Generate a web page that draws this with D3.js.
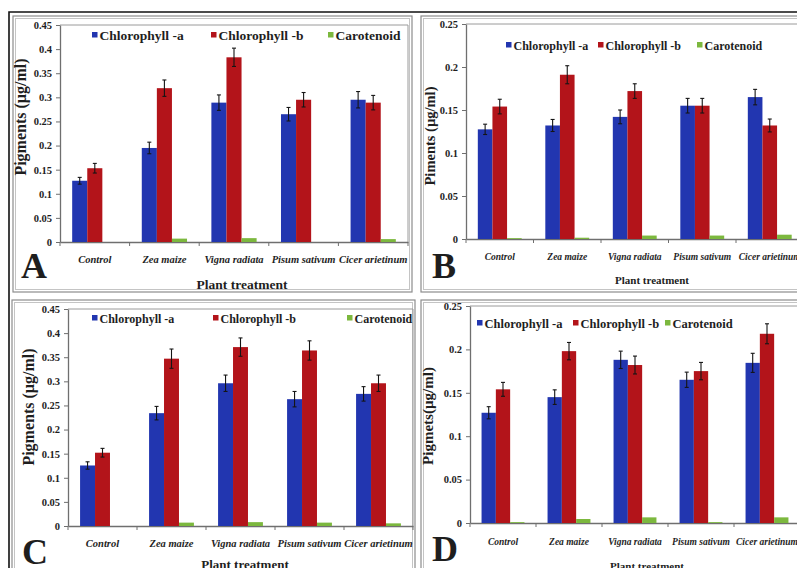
<!DOCTYPE html>
<html>
<head>
<meta charset="utf-8">
<script src="https://cdn.jsdelivr.net/npm/d3@7"></script>
<style>
  body { margin: 0; background: #fff; }
  svg text { font-family: "Liberation Serif", "Times New Roman", serif; font-weight: bold; fill: #1e1e1e; }
</style>
</head>
<body>
<svg id="fig" width="797" height="568"></svg>
<script>
// ---- data ----
const categories = ["Control", "Zea maize", "Vigna radiata", "Pisum sativum", "Cicer arietinum"];
const seriesNames = ["Chlorophyll -a", "Chlorophyll -b", "Carotenoid"];
const seriesColors = ["#2236b0", "#b3141a", "#7cb83e"];

const ticksHigh = [0, 0.05, 0.1, 0.15, 0.2, 0.25, 0.3, 0.35, 0.4, 0.45];
const ticksLow = [0, 0.05, 0.1, 0.15, 0.2, 0.25];

// Panel A
const chlA_A = [0.127, 0.195, 0.289, 0.265, 0.295];
const chlB_A = [0.153, 0.319, 0.383, 0.295, 0.289];
const car_A  = [0, 0.007, 0.008, 0, 0.006];
const errChlA_A = [0.007, 0.012, 0.016, 0.014, 0.017];
const errChlB_A = [0.010, 0.017, 0.019, 0.015, 0.015];

// Panel B
const chlA_B = [0.1275, 0.132, 0.142, 0.155, 0.165];
const chlB_B = [0.154, 0.191, 0.172, 0.155, 0.132];
const car_B  = [0.001, 0.0015, 0.004, 0.004, 0.005];
const errChlA_B = [0.006, 0.007, 0.008, 0.0085, 0.009];
const errChlB_B = [0.0085, 0.0105, 0.0085, 0.0085, 0.0075];

// Panel C
const chlA_C = [0.1255, 0.234, 0.296, 0.263, 0.274];
const chlB_C = [0.152, 0.347, 0.371, 0.364, 0.296];
const car_C  = [0, 0.007, 0.008, 0.007, 0.0055];
const errChlA_C = [0.0076, 0.014, 0.017, 0.016, 0.015];
const errChlB_C = [0.009, 0.020, 0.019, 0.020, 0.017];

// Panel D
const chlA_D = [0.127, 0.145, 0.188, 0.165, 0.1845];
const chlB_D = [0.154, 0.198, 0.182, 0.175, 0.218];
const car_D  = [0.001, 0.0046, 0.0065, 0.001, 0.0065];
const errChlA_D = [0.007, 0.0084, 0.010, 0.0088, 0.011];
const errChlB_D = [0.008, 0.010, 0.0103, 0.010, 0.0115];

// ---- layout ----
const panels = [
  { letter: "A", values: [chlA_A, chlB_A, car_A], errors: [errChlA_A, errChlB_A, null],
    ticks: ticksHigh, yTitle: "Pigments (\u00b5g/ml)",
    box: [13, 16, 412, 292], plot: [60, 25, 408, 242],
    legendY: 35, legendX: [92, 211, 328], legendSize: 13.5,
    yTitlePos: [20, 117], yTitleSize: 16, xLabelY: 263, xLabelSize: 10.5,
    xTitle: [242, 289], xTitleSize: 13.5, letterPos: [21, 278] },
  { letter: "B", values: [chlA_B, chlB_B, car_B], errors: [errChlA_B, errChlB_B, null],
    ticks: ticksLow, yTitle: "Piments (\u00b5g/ml)",
    box: [421, 16, 830, 292], plot: [466, 24, 803.5, 239],
    legendY: 45, legendX: [506, 598, 697], legendSize: 12,
    yTitlePos: [430, 136], yTitleSize: 14.5, xLabelY: 260, xLabelSize: 9.5,
    xTitle: [652, 284], xTitleSize: 11, letterPos: [432, 278] },
  { letter: "C", values: [chlA_C, chlB_C, car_C], errors: [errChlA_C, errChlB_C, null],
    ticks: ticksHigh, yTitle: "Pigments (\u00b5g/ml)",
    box: [12, 300, 415, 600], plot: [68, 309, 413, 526],
    legendY: 318, legendX: [92, 213, 347], legendSize: 12,
    yTitlePos: [28, 407], yTitleSize: 16, xLabelY: 547, xLabelSize: 10.5,
    xTitle: [245, 569], xTitleSize: 13, letterPos: [22, 564] },
  { letter: "D", values: [chlA_D, chlB_D, car_D], errors: [errChlA_D, errChlB_D, null],
    ticks: ticksLow, yTitle: "Pigmets(\u00b5g/ml)",
    box: [421, 300, 830, 600], plot: [470, 306, 800, 523],
    legendY: 323, legendX: [477, 573, 665], legendSize: 12.5,
    yTitlePos: [428, 416], yTitleSize: 15, xLabelY: 545, xLabelSize: 9.5,
    xTitle: [647, 570], xTitleSize: 11, letterPos: [432, 561] }
];

const svg = d3.select("#fig");
svg.append("rect").attr("width", 797).attr("height", 568).attr("fill", "#fff");

// outer frame
svg.append("path")
  .attr("d", "M9,580 L9,12 L810,12")
  .attr("fill", "none").attr("stroke", "#111").attr("stroke-width", 1.6);

panels.forEach(p => {
  const g = svg.append("g");
  const [bx0, by0, bx1, by1] = p.box;
  const [px0, py0, px1, py1] = p.plot;

  // panel box (double grey rule)
  g.append("rect").attr("x", bx0).attr("y", by0).attr("width", bx1 - bx0).attr("height", by1 - by0)
    .attr("fill", "none").attr("stroke", "#8d8d8d").attr("stroke-width", 1.2);
  g.append("rect").attr("x", bx0 + 2.5).attr("y", by0 + 2.5).attr("width", bx1 - bx0 - 5).attr("height", by1 - by0 - 5)
    .attr("fill", "none").attr("stroke", "#c4c4c4").attr("stroke-width", 1);

  const yMax = p.ticks[p.ticks.length - 1];
  const y = d3.scaleLinear().domain([0, yMax]).range([py1, py0]);
  const x0 = d3.scaleBand().domain(categories).range([px0, px1]).paddingInner(0.35).paddingOuter(0.175);
  const x1 = d3.scaleBand().domain(seriesNames).range([0, x0.bandwidth()]);

  // plot area frame (top and right)
  g.append("path")
    .attr("d", `M${px0},${py0} L${px1},${py0} L${px1},${py1}`)
    .attr("fill", "none").attr("stroke", "#9a9a9a").attr("stroke-width", 1);

  // y axis
  const ya = g.append("g").attr("transform", `translate(${px0},0)`)
    .call(d3.axisLeft(y).tickValues(p.ticks).tickSize(4).tickSizeOuter(0).tickPadding(4).tickFormat(d => String(d)));
  ya.select(".domain").attr("stroke", "#6f6f6f").attr("stroke-width", 1.3);
  ya.selectAll(".tick line").attr("stroke", "#6f6f6f");
  ya.selectAll(".tick text").attr("font-family", "Liberation Serif, serif")
    .attr("font-weight", "bold").attr("font-size", 10.5).attr("fill", "#333");

  // x axis with category boundary ticks
  const xa = g.append("g").attr("transform", `translate(0,${py1})`)
    .call(d3.axisBottom(x0).tickSize(0).tickPadding(0).tickFormat(""));
  xa.select(".domain").attr("stroke", "#6f6f6f").attr("stroke-width", 1.3);
  const step = x0.step();
  const bounds = categories.map(c => x0(c) - step * x0.paddingOuter()).concat([px1]);
  g.selectAll(null).data(bounds).join("line")
    .attr("x1", d => d).attr("x2", d => d).attr("y1", py1).attr("y2", py1 + 4)
    .attr("stroke", "#6f6f6f").attr("stroke-width", 1);

  // category labels
  g.selectAll(null).data(categories).join("text")
    .attr("x", c => x0(c) + x0.bandwidth() / 2).attr("y", p.xLabelY)
    .attr("text-anchor", "middle").attr("font-size", p.xLabelSize).attr("font-style", "italic")
    .attr("fill", "#2a2a2a").text(c => c);

  // bars
  seriesNames.forEach((s, si) => {
    g.selectAll(null).data(p.values[si]).join("rect")
      .attr("x", (v, i) => x0(categories[i]) + x1(s))
      .attr("y", v => y(v))
      .attr("width", x1.bandwidth())
      .attr("height", v => y(0) - y(v))
      .attr("fill", seriesColors[si]);
  });

  // error bars
  seriesNames.forEach((s, si) => {
    const errs = p.errors[si];
    if (!errs) return;
    const vals = p.values[si];
    const eg = g.append("g").attr("stroke", "#151515").attr("stroke-width", 1.1);
    vals.forEach((v, i) => {
      const cx = x0(categories[i]) + x1(s) + x1.bandwidth() / 2;
      const yt = y(v + errs[i]), yb = y(v - errs[i]);
      eg.append("line").attr("x1", cx).attr("x2", cx).attr("y1", yt).attr("y2", yb);
      eg.append("line").attr("x1", cx - 2).attr("x2", cx + 2).attr("y1", yt).attr("y2", yt);
      eg.append("line").attr("x1", cx - 2).attr("x2", cx + 2).attr("y1", yb).attr("y2", yb);
    });
  });

  // legend
  seriesNames.forEach((s, si) => {
    const lx = p.legendX[si];
    g.append("rect").attr("x", lx).attr("y", p.legendY - 3).attr("width", 5.5).attr("height", 5.5)
      .attr("fill", seriesColors[si]);
    g.append("text").attr("x", lx + 7.5).attr("y", p.legendY + 4.5)
      .attr("font-size", p.legendSize).attr("fill", "#1b1b1b").text(s);
  });

  // y-axis title
  g.append("text")
    .attr("transform", `translate(${p.yTitlePos[0]},${p.yTitlePos[1]}) rotate(-90)`)
    .attr("text-anchor", "middle").attr("dominant-baseline", "central")
    .attr("font-size", p.yTitleSize).text(p.yTitle);

  // x-axis title
  g.append("text").attr("x", p.xTitle[0]).attr("y", p.xTitle[1])
    .attr("text-anchor", "middle").attr("font-size", p.xTitleSize).text("Plant treatment");

  // panel letter
  g.append("text").attr("x", p.letterPos[0]).attr("y", p.letterPos[1])
    .attr("font-size", 36).attr("fill", "#000").text(p.letter);
});
</script>
</body>
</html>
